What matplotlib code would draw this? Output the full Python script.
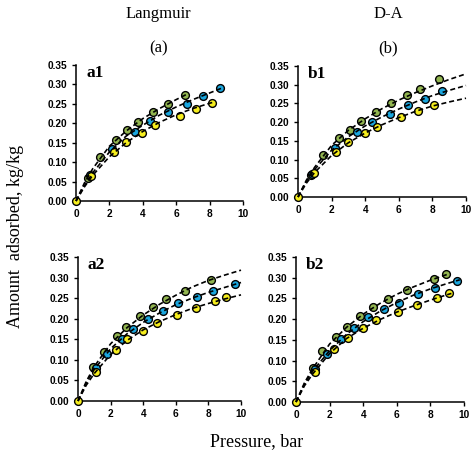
import numpy as np
import matplotlib
matplotlib.use('Agg')
import matplotlib.pyplot as plt
from matplotlib.ticker import FormatStrFormatter, MultipleLocator

# colours of the three series
c_green = '#92B550'
c_blue = '#1AA6DE'
c_yellow = '#F6EE1E'

# ---------- a1 (Langmuir) ----------
a1_green_P = [0.70, 1.46, 2.40, 3.08, 3.72, 4.62, 5.52, 6.54]
a1_green_q = [0.060, 0.112, 0.157, 0.182, 0.203, 0.228, 0.249, 0.273]
a1_blue_P = [0.82, 2.18, 3.52, 4.44, 5.48, 6.64, 7.60, 8.62]
a1_blue_q = [0.067, 0.134, 0.178, 0.205, 0.230, 0.250, 0.271, 0.290]
a1_yellow_P = [0, 0.88, 2.28, 3.00, 3.98, 4.74, 6.24, 7.18, 8.14]
a1_yellow_q = [0, 0.065, 0.125, 0.151, 0.175, 0.196, 0.220, 0.238, 0.253]
a1_fit_green_P = [0, 0.5, 1, 2, 3, 4, 5, 6, 6.6]
a1_fit_green_q = [0, 0.046, 0.083, 0.141, 0.180, 0.212, 0.238, 0.261, 0.274]
a1_fit_blue_P = [0, 0.5, 1, 2, 3, 4, 5, 6, 7, 8, 8.7]
a1_fit_blue_q = [0, 0.039, 0.0725, 0.126, 0.167, 0.195, 0.221, 0.242, 0.261, 0.278, 0.290]
a1_fit_yellow_P = [0, 0.5, 1, 2, 3, 4, 5, 6, 7, 8, 8.2]
a1_fit_yellow_q = [0, 0.036, 0.066, 0.114, 0.150, 0.179, 0.2025, 0.222, 0.238, 0.2515, 0.254]

# ---------- b1 (D-A) ----------
b1_green_P = [0.75, 1.48, 2.42, 3.11, 3.76, 4.63, 5.51, 6.50, 7.24, 8.39]
b1_green_q = [0.060, 0.112, 0.158, 0.180, 0.202, 0.228, 0.250, 0.272, 0.288, 0.314]
b1_blue_P = [0.85, 2.20, 3.50, 4.39, 5.49, 6.56, 7.54, 8.58]
b1_blue_q = [0.0625, 0.131, 0.174, 0.201, 0.223, 0.245, 0.263, 0.283]
b1_yellow_P = [0, 0.93, 2.26, 2.99, 3.96, 4.69, 6.14, 7.13, 8.07]
b1_yellow_q = [0, 0.063, 0.121, 0.146, 0.172, 0.188, 0.215, 0.231, 0.246]
b1_fit_P = [0, 0.5, 1, 2, 3, 4, 5, 6, 7, 8, 9, 10]
b1_fit_green_q = [0, 0.045, 0.080, 0.138, 0.178, 0.209, 0.236, 0.259, 0.279, 0.297, 0.314, 0.329]
b1_fit_blue_q = [0, 0.042, 0.074, 0.125, 0.161, 0.190, 0.214, 0.235, 0.254, 0.271, 0.285, 0.298]
b1_fit_yellow_q = [0, 0.037, 0.066, 0.111, 0.145, 0.171, 0.193, 0.212, 0.229, 0.243, 0.254, 0.264]

# ---------- a2 (Langmuir) ----------
a2_green_P = [0.94, 1.57, 2.37, 2.96, 3.80, 4.61, 5.41, 6.59, 8.14]
a2_green_q = [0.082, 0.120, 0.158, 0.180, 0.206, 0.229, 0.247, 0.268, 0.294]
a2_blue_P = [1.12, 1.78, 2.69, 3.39, 4.31, 5.22, 6.16, 7.27, 8.27, 9.61]
a2_blue_q = [0.079, 0.114, 0.151, 0.174, 0.200, 0.219, 0.237, 0.252, 0.267, 0.285]
a2_yellow_P = [0, 1.10, 2.31, 3.02, 3.98, 4.84, 6.08, 7.22, 8.41, 9.08]
a2_yellow_q = [0, 0.070, 0.124, 0.150, 0.171, 0.189, 0.208, 0.225, 0.242, 0.252]
a2_fit_P = [0, 0.5, 1, 2, 3, 4, 5, 6, 7, 8, 9, 10]
a2_fit_green_q = [0, 0.047, 0.084, 0.139, 0.178, 0.209, 0.235, 0.257, 0.277, 0.293, 0.306, 0.318]
a2_fit_blue_q = [0, 0.043, 0.077, 0.127, 0.163, 0.191, 0.214, 0.234, 0.250, 0.264, 0.276, 0.288]
a2_fit_yellow_q = [0, 0.038, 0.067, 0.113, 0.147, 0.173, 0.193, 0.210, 0.225, 0.237, 0.248, 0.258]

# ---------- b2 (D-A) ----------
b2_green_P = [1.02, 1.55, 2.36, 3.05, 3.81, 4.58, 5.46, 6.62, 8.19, 8.94]
b2_green_q = [0.0815, 0.122, 0.157, 0.182, 0.208, 0.229, 0.249, 0.270, 0.296, 0.308]
b2_blue_P = [1.14, 1.85, 2.69, 3.46, 4.30, 5.25, 6.13, 7.29, 8.29, 9.59]
b2_blue_q = [0.080, 0.117, 0.153, 0.178, 0.205, 0.225, 0.240, 0.260, 0.274, 0.292]
b2_yellow_P = [0, 1.12, 2.28, 3.10, 3.99, 4.79, 6.05, 7.21, 8.41, 9.10]
b2_yellow_q = [0, 0.0735, 0.129, 0.155, 0.178, 0.197, 0.217, 0.233, 0.252, 0.264]
b2_fit_green_P = [0, 0.5, 1, 2, 3, 4, 5, 6, 7, 8, 9]
b2_fit_green_q = [0, 0.046, 0.081, 0.140, 0.180, 0.212, 0.238, 0.260, 0.278, 0.294, 0.308]
b2_fit_blue_P = [0, 0.5, 1, 2, 3, 4, 5, 6, 7, 8, 9, 9.75]
b2_fit_blue_q = [0, 0.043, 0.075, 0.124, 0.163, 0.194, 0.219, 0.240, 0.258, 0.273, 0.286, 0.295]
b2_fit_yellow_P = [0, 0.5, 1, 2, 3, 4, 5, 6, 7, 8, 9, 9.25]
b2_fit_yellow_q = [0, 0.039, 0.068, 0.117, 0.153, 0.178, 0.199, 0.217, 0.232, 0.246, 0.259, 0.262]

x_ticks = [0, 2, 4, 6, 8, 10]
y_ticks = [0.00, 0.05, 0.10, 0.15, 0.20, 0.25, 0.30, 0.35]

W, H = 474, 453
fig = plt.figure(figsize=(W / 100, H / 100), dpi=100)

serif = ['Liberation Serif', 'DejaVu Serif']
sans = ['Liberation Sans', 'DejaVu Sans']


def make_axes(left, right, top, bottom):
    return fig.add_axes([left / W, 1 - bottom / H, (right - left) / W, (bottom - top) / H])


def draw_panel(ax, label, pts, fits):
    for P, q, col in pts:
        ax.plot(P, q, 'o', ms=5.6, mfc=col, mec='black', mew=1.0, zorder=3, clip_on=False)
    for P, q in fits:
        ax.plot(P, q, color='black', lw=1.2, ls=(0, (3.0, 1.8)), zorder=4, clip_on=False)
    ax.set_xlim(0, 10)
    ax.set_ylim(0, 0.35)
    ax.set_xticks(x_ticks)
    ax.set_yticks(y_ticks)
    ax.yaxis.set_major_formatter(FormatStrFormatter('%.2f'))
    for s in ['top', 'right']:
        ax.spines[s].set_visible(False)
    for s in ['left', 'bottom']:
        ax.spines[s].set_linewidth(1.1)
    ax.tick_params(direction='out', length=3, width=1.0, pad=3)
    for t in ax.get_xticklabels() + ax.get_yticklabels():
        t.set_fontfamily(sans)
        t.set_fontweight('bold')
        t.set_fontsize(7.3)
    ax.text(0.06, 1.0, label, transform=ax.transAxes, ha='left', va='top',
            fontsize=12.5, fontweight='bold', family=serif)


ax_a1 = make_axes(76, 243, 65, 201)
draw_panel(ax_a1, 'a1',
           [(a1_green_P, a1_green_q, c_green), (a1_blue_P, a1_blue_q, c_blue),
            (a1_yellow_P, a1_yellow_q, c_yellow)],
           [(a1_fit_green_P, a1_fit_green_q), (a1_fit_blue_P, a1_fit_blue_q),
            (a1_fit_yellow_P, a1_fit_yellow_q)])

ax_b1 = make_axes(298, 466, 66, 197)
draw_panel(ax_b1, 'b1',
           [(b1_green_P, b1_green_q, c_green), (b1_blue_P, b1_blue_q, c_blue),
            (b1_yellow_P, b1_yellow_q, c_yellow)],
           [(b1_fit_P, b1_fit_green_q), (b1_fit_P, b1_fit_blue_q),
            (b1_fit_P, b1_fit_yellow_q)])

ax_a2 = make_axes(78, 241, 257, 401)
draw_panel(ax_a2, 'a2',
           [(a2_green_P, a2_green_q, c_green), (a2_blue_P, a2_blue_q, c_blue),
            (a2_yellow_P, a2_yellow_q, c_yellow)],
           [(a2_fit_P, a2_fit_green_q), (a2_fit_P, a2_fit_blue_q),
            (a2_fit_P, a2_fit_yellow_q)])

ax_b2 = make_axes(296, 464, 257, 402)
draw_panel(ax_b2, 'b2',
           [(b2_green_P, b2_green_q, c_green), (b2_blue_P, b2_blue_q, c_blue),
            (b2_yellow_P, b2_yellow_q, c_yellow)],
           [(b2_fit_green_P, b2_fit_green_q), (b2_fit_blue_P, b2_fit_blue_q),
            (b2_fit_yellow_P, b2_fit_yellow_q)])

# headers and axis titles
fig.text(158 / W, 1 - 14 / H, 'Langmuir', ha='center', va='center', fontsize=12, family=serif)
fig.text(388 / W, 1 - 14 / H, 'D-A', ha='center', va='center', fontsize=12, family=serif)
fig.text(159 / W, 1 - 48 / H, '(a)', ha='center', va='center', fontsize=12, family=serif)
fig.text(388 / W, 1 - 48 / H, '(b)', ha='center', va='center', fontsize=12, family=serif)
fig.text(257 / W, 1 - 442 / H, 'Pressure, bar', ha='center', va='center', fontsize=13, family=serif)
fig.text(16 / W, 1 - 236 / H, 'Amount  adsorbed, kg/kg', ha='center', va='center',
         rotation=90, fontsize=13, family=serif)

fig.savefig('out.png', dpi=100)
